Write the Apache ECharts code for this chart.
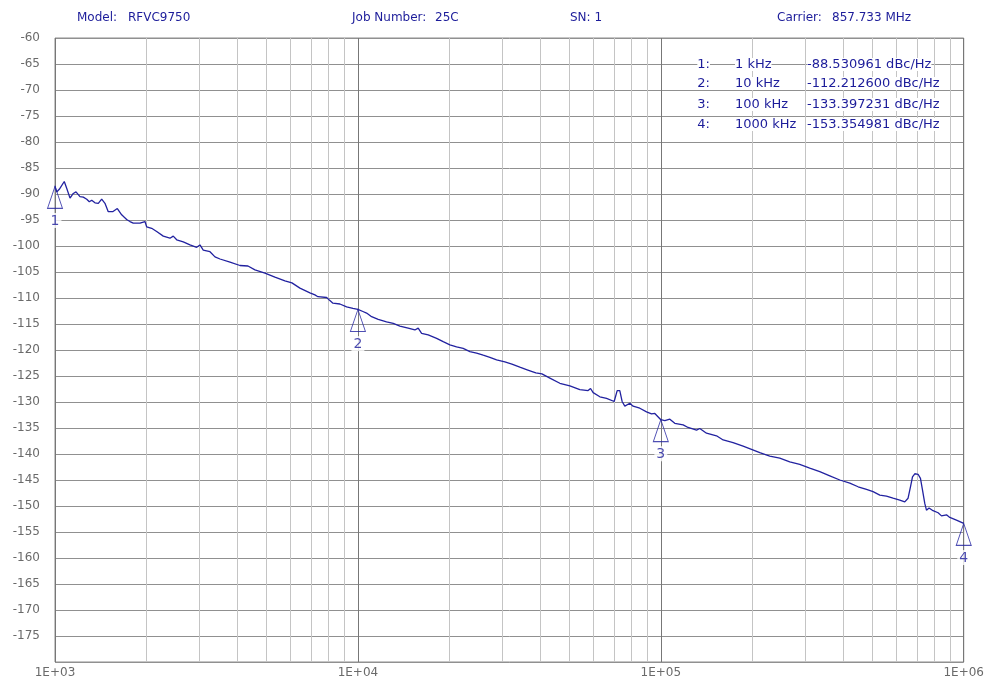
<!DOCTYPE html>
<html>
<head>
<meta charset="utf-8">
<script src="https://cdn.jsdelivr.net/npm/echarts@6/dist/echarts.min.js"></script>
<style>
html,body{margin:0;padding:0;background:#fff;}
#chart{width:987px;height:682px;}
</style>
</head>
<body>
<div id="chart"></div>
<script>
// Offset frequency (Hz)
var freqHz = [
  1000, 1013, 1033, 1073, 1093, 1121, 1149, 1173, 1209, 1240,
  1273, 1298, 1322, 1355, 1390, 1426, 1462, 1499, 1550, 1606,
  1660, 1724, 1768, 1813, 1908, 1982, 2007, 2085, 2166, 2278,
  2396, 2457, 2522, 2651, 2790, 2936, 3010, 3086, 3248, 3374,
  3505, 3782, 4080, 4335, 4572, 4933, 5322, 5742, 6056, 6436,
  6943, 7212, 7379, 7883, 8083, 8270, 8721, 9178, 9627, 10000,
  10387, 10683, 11097, 11668, 12433, 13080, 13760, 14655, 15420, 15812,
  16230, 17060, 18190, 19120, 20120, 21170, 22260, 23420, 24650, 25920,
  27270, 28700, 30560, 32240, 34240, 36390, 38680, 40500, 43030, 46420,
  50090, 54030, 57540, 58610, 59790, 62910, 66200, 70150, 71770, 73210,
  74510, 76060, 78990, 81000, 85240, 89720, 93180, 95550, 100000, 103100,
  107100, 111200, 118500, 123000, 131200, 134500, 141500, 152700, 160600, 173200,
  186900, 199200, 212200, 228900, 247000, 266500, 287500, 310200, 334800, 361300,
  389800, 420600, 448000, 453800, 477500, 502000, 528300, 555600, 584300, 615000,
  638800, 655000, 667100, 677400, 689300, 706800, 719700, 730800, 743700, 753300,
  768300, 792000, 823000, 844500, 877200, 899500, 946000, 1000000
];
// Phase noise (dBc/Hz)
var phaseNoise = [
  -88.5, -89.6, -89.1, -87.6, -88.9, -90.8, -89.9, -89.6, -90.5, -90.6,
  -91.0, -91.5, -91.2, -91.7, -91.8, -91.0, -91.8, -93.4, -93.4, -92.8,
  -94.0, -94.9, -95.3, -95.6, -95.6, -95.3, -96.3, -96.6, -97.2, -98.1,
  -98.5, -98.1, -98.8, -99.2, -99.8, -100.25, -99.8, -100.8, -101.1, -102.1,
  -102.5, -103.1, -103.75, -103.85, -104.6, -105.2, -106.0, -106.7, -107.1, -108.1,
  -109.0, -109.4, -109.75, -109.9, -110.5, -111.0, -111.15, -111.7, -112.0, -112.2,
  -112.6, -112.9, -113.6, -114.1, -114.6, -114.9, -115.4, -115.8, -116.15, -115.8,
  -116.8, -117.1, -117.75, -118.4, -119.0, -119.4, -119.7, -120.3, -120.6, -121.0,
  -121.4, -121.9, -122.3, -122.7, -123.3, -123.85, -124.4, -124.6, -125.4, -126.4,
  -126.9, -127.6, -127.8, -127.4, -128.2, -129.0, -129.3, -129.9, -127.8, -127.8,
  -129.9, -130.8, -130.25, -130.8, -131.2, -131.9, -132.3, -132.2, -133.4, -133.6,
  -133.3, -134.1, -134.4, -134.9, -135.4, -135.1, -136.0, -136.5, -137.3, -137.8,
  -138.5, -139.1, -139.75, -140.4, -140.8, -141.5, -142.0, -142.7, -143.4, -144.2,
  -145.0, -145.6, -146.3, -146.0, -146.8, -147.25, -147.9, -148.1, -148.5, -148.85,
  -149.2, -148.5, -146.3, -144.4, -143.8, -143.9, -144.7, -146.9, -149.5, -150.8,
  -150.4, -150.9, -151.3, -151.9, -151.7, -152.2, -152.7, -153.35
];
// Markers
var markerFreqHz = [1000, 10000, 100000, 1000000];
var markerValues = [-88.530961, -112.2126, -133.397231, -153.354981];
var markerFreqLabels = ['1 kHz', '10 kHz', '100 kHz', '1000 kHz'];
var markerValueLabels = ['-88.530961 dBc/Hz', '-112.212600 dBc/Hz', '-133.397231 dBc/Hz', '-153.354981 dBc/Hz'];
// Minor log grid lines
var minorGridFreqs = [];
[1000, 10000, 100000].forEach(function (d) {
  for (var k = 2; k <= 9; k++) minorGridFreqs.push(d * k);
});
// Header texts
var headerItems = [
  ['Model:', 77], ['RFVC9750', 128], ['Job Number:', 352], ['25C', 435],
  ['SN: 1', 570], ['Carrier:', 777], ['857.733 MHz', 832]
];

var BLUE = '#2222a0';
var TXT = '#1c1c9a';
var FONT = 'DejaVu Sans';

var chart = echarts.init(document.getElementById('chart'), null, {renderer: 'canvas'});

var graphics = [];
headerItems.forEach(function (h) {
  graphics.push({
    type: 'text', left: h[1], top: 12, silent: true,
    style: {text: h[0], fill: TXT, font: '12px "' + FONT + '"'}
  });
});
var rowY = [58, 77, 98, 118];
for (var i = 0; i < 4; i++) {
  graphics.push({
    type: 'text', right: 987 - 710, top: rowY[i], z: 10, silent: true,
    style: {text: (i + 1) + ':', fill: TXT, font: '13px "' + FONT + '"', backgroundColor: '#fff'}
  });
  graphics.push({
    type: 'text', left: 735, top: rowY[i], z: 10, silent: true,
    style: {text: markerFreqLabels[i], fill: TXT, font: '13px "' + FONT + '"', backgroundColor: '#fff'}
  });
  graphics.push({
    type: 'text', left: 807, top: rowY[i], z: 10, silent: true,
    style: {text: markerValueLabels[i], fill: TXT, font: '13px "' + FONT + '"', backgroundColor: '#fff'}
  });
}

var option = {
  animation: false,
  backgroundColor: '#ffffff',
  grid: {left: 55, top: 38, right: 23, bottom: 20, show: true, borderColor: '#8c8c8c', borderWidth: 1, backgroundColor: 'transparent'},
  xAxis: {
    type: 'log', logBase: 10, min: 1000, max: 1000000,
    axisLine: {show: false}, axisTick: {show: false},
    splitLine: {show: true, lineStyle: {color: '#777777', width: 1}},
    axisLabel: {
      color: '#6a6a6a', fontFamily: FONT, fontSize: 12, margin: 5,
      formatter: function (v) { return '1E+0' + Math.round(Math.log10(v)); }
    }
  },
  yAxis: {
    type: 'value', min: -180, max: -60, interval: 5,
    axisLine: {show: false}, axisTick: {show: false},
    splitLine: {show: true, lineStyle: {color: '#909090', width: 1}},
    axisLabel: {color: '#6a6a6a', fontFamily: FONT, fontSize: 12, margin: 15, showMinLabel: false, showMaxLabel: true}
  },
  graphic: graphics,
  series: [
    {
      type: 'line', name: 'grid', data: [], silent: true, z: 1,
      markLine: {
        silent: true, symbol: 'none', z: 1, animation: false,
        label: {show: false},
        lineStyle: {color: '#c4c4c4', type: 'solid', width: 1},
        emphasis: {disabled: true},
        data: minorGridFreqs.map(function (f) { return {xAxis: f}; })
      }
    },
    {
      type: 'line', name: 'Phase Noise', z: 3,
      data: freqHz.map(function (f, i) { return [f, phaseNoise[i]]; }),
      showSymbol: false, symbol: 'none',
      lineStyle: {color: BLUE, width: 1.3},
      silent: true
    },
    {
      type: 'scatter', name: 'Markers', z: 4, silent: true,
      data: markerFreqHz.map(function (f, i) { return [f, markerValues[i]]; }),
      symbol: 'triangle', symbolSize: [15, 22], symbolOffset: [0, 11],
      itemStyle: {color: 'rgba(0,0,0,0)', borderColor: BLUE, borderWidth: 1},
      label: {
        show: true, position: 'bottom', distance: 4,
        formatter: function (p) { return String(p.dataIndex + 1); },
        color: TXT, fontFamily: FONT, fontSize: 14,
        backgroundColor: '#fff', padding: [1, 2, 0, 2]
      }
    }
  ]
};
chart.setOption(option);
</script>
</body>
</html>
